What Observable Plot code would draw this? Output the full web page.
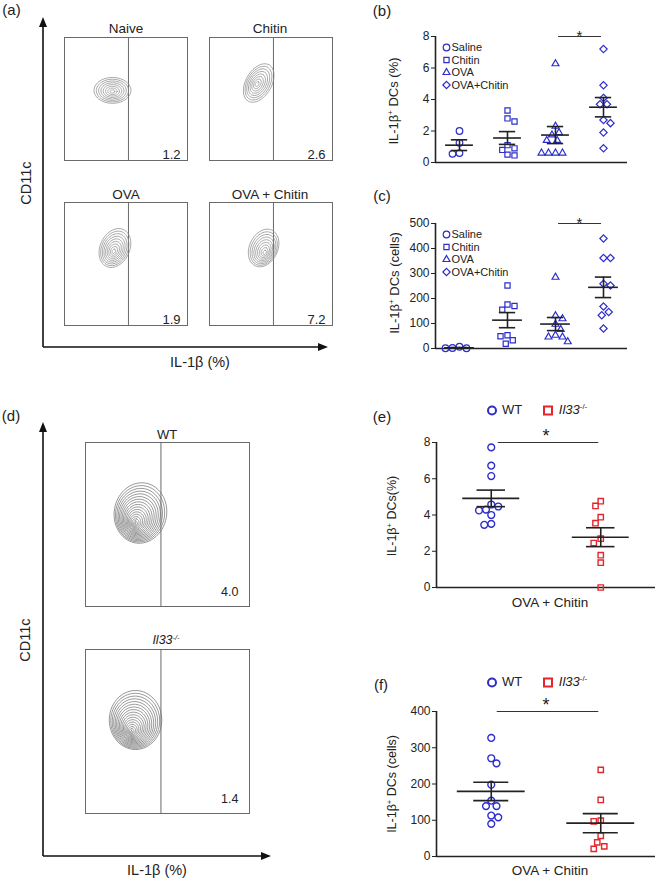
<!DOCTYPE html>
<html><head><meta charset="utf-8">
<script src="https://cdn.jsdelivr.net/npm/d3@7"></script>
<script src="https://cdn.jsdelivr.net/npm/@observablehq/plot@0.6"></script>
<style>
body{margin:0;background:#fff;}
#fig{position:relative;width:660px;height:881px;font-family:"Liberation Sans",Arial,sans-serif;color:#222;overflow:hidden;background:#fff}
.lbl{position:absolute;white-space:nowrap;line-height:1;color:#222}
.lbl sup{font-size:0.6em;vertical-align:0.55em;line-height:0}
.sw{display:inline-block;box-sizing:border-box;vertical-align:middle}
</style></head><body><div id="fig"></div>
<script>
// ---------- flow cytometry panels (a), (d) ----------
const flowNames = ["Naive", "Chitin", "OVA", "OVA + Chitin", "WT", "Il33"];
const flowPct   = [1.2, 2.6, 1.9, 7.2, 4.0, 1.4];
const flowGate  = [52, 52, 52, 52, 46, 46];          // IL-1β gate, % of axis
// population outline (% of box)
const popCx     = [39, 40, 41, 44, 33.5, 30.5];
const popCy     = [57, 63, 63, 63, 57, 57];
const coreCx    = [39, 38.5, 40, 45, 30, 28];
const coreCy    = [56, 62, 60, 59, 50, 49.5];
const popLong   = [15, 17, 16.5, 16, 18.5, 18];
const popShort  = [10.5, 10.5, 12, 11.5, 16, 16];
const popTilt   = [0, 60, 65, 65, 80, 90];
const popLevels = [8, 8, 9, 9, 17, 17];

// ---------- panel (b): IL-1β+ DCs (%) ----------
const bcGroups   = ["Saline", "Chitin", "OVA", "OVA+Chitin"];
const bSaline    = [2.0, 1.25, 0.6, 0.55];
const bChitin    = [3.3, 2.8, 2.6, 1.1, 0.9, 0.8, 0.5, 0.45];
const bOVA       = [6.27, 2.3, 1.9, 1.75, 1.4, 1.4, 0.6, 0.6, 0.6, 0.6];
const bOVAChitin = [7.2, 4.9, 4.1, 3.7, 3.7, 2.7, 2.5, 1.9, 0.9];
const bTicks     = [0, 2, 4, 6, 8];
// ---------- panel (c): IL-1β+ DCs (cells) ----------
const cSaline    = [1, 2, 1, 7];
const cChitin    = [252, 176, 170, 155, 53, 49, 33, 19];
const cOVA       = [285, 131, 119, 97, 76, 53, 46, 46, 27];
const cOVAChitin = [440, 362, 362, 259, 252, 168, 146, 133, 80];
const cTicks     = [0, 100, 200, 300, 400, 500];
// ---------- panel (e) / (f): OVA + Chitin, WT vs Il33-/- ----------
const efGroups = ["WT", "Il33"];
const eWT   = [7.73, 6.72, 6.15, 4.58, 4.47, 4.3, 4.25, 4.0, 3.51, 3.46];
const eIl33 = [4.76, 4.5, 3.88, 3.55, 2.69, 2.45, 1.78, 1.37, 0];
const eTicks = [0, 2, 4, 6, 8];
const fWT   = [327, 271, 257, 198, 154, 139, 139, 113, 108, 90];
const fIl33 = [239, 156, 99, 97, 57, 39, 28, 21];
const fTicks = [0, 100, 200, 300, 400];

const BLUE = "#2d2dcc", RED = "#e2262c", INK = "#222";
const FONT = "'Liberation Sans', Arial, sans-serif";
const fig = document.getElementById("fig");

function put(node, left, top) {
  node.style.position = "absolute";
  node.style.left = left + "px";
  node.style.top = top + "px";
  fig.appendChild(node);
}
function label(html, cx, cy, size, opts = {}) {
  const d = document.createElement("div");
  d.className = "lbl";
  d.innerHTML = html;
  d.style.fontSize = size + "px";
  d.style.left = cx + "px";
  d.style.top = cy + "px";
  d.style.transform = "translate(-50%,-50%)" + (opts.rotate ? " rotate(-90deg)" : "");
  if (opts.italic) d.style.fontStyle = "italic";
  fig.appendChild(d);
}

// axis arrows for the flow panels (decoration)
const NS = "http://www.w3.org/2000/svg";
const arr = document.createElementNS(NS, "svg");
arr.setAttribute("width", 660); arr.setAttribute("height", 881);
arr.innerHTML = `
<g stroke="#111" stroke-width="1.6" fill="none">
 <path d="M43,347V25M43,347H320"/>
 <path d="M43,856V430M43,856H263"/>
</g>
<g fill="#111">
 <path d="M43,17L39,27H47Z"/><path d="M328,347L318,343V351Z"/>
 <path d="M43,422L39,432H47Z"/><path d="M271,856L261,852V860Z"/>
</g>`;
put(arr, 0, 0);

function flowPlot(i, size, pctSize, pdx, pdy, lineColor, lineW, power) {
  const pts = [];
  const N = popLevels[i], phi = popTilt[i] * Math.PI / 180;
  for (let k = 1; k <= N; k++) {
    const s = Math.pow(k / N, power);
    const cx = coreCx[i] + (popCx[i] - coreCx[i]) * s;
    const cy = coreCy[i] + (popCy[i] - coreCy[i]) * s;
    for (let t = 0; t < 60; t++) {
      const th = 2 * Math.PI * t / 60;
      const u = popLong[i] * s * Math.cos(th), v = popShort[i] * s * Math.sin(th);
      pts.push({level: k, x: cx + u * Math.cos(phi) - v * Math.sin(phi), y: cy + u * Math.sin(phi) + v * Math.cos(phi)});
    }
  }
  return Plot.plot({
    width: size + 2, height: size + 2, margin: 1,
    style: {fontFamily: FONT, background: "transparent", color: INK},
    x: {domain: [0, 100], axis: null},
    y: {domain: [0, 100], axis: null},
    marks: [
      Plot.frame({stroke: "#6a6a6a"}),
      Plot.ruleX([flowGate[i]], {stroke: "#6a6a6a"}),
      Plot.line(pts, {x: "x", y: "y", z: "level", curve: "linear-closed", stroke: lineColor, strokeWidth: lineW}),
      Plot.text([flowPct[i]], {frameAnchor: "bottom-right", text: d => d.toFixed(1), textAnchor: "end",
        lineAnchor: "bottom", dx: pdx, dy: pdy, fontSize: pctSize, fill: INK})
    ]
  });
}

const boxesA = [[64, 37], [209, 37], [64, 202], [209, 202]];
boxesA.forEach(([l, t], i) => put(flowPlot(i, 123, 13, -7, -2, "#8a8a8a", 0.75, 1), l - 1, t - 1));
const boxesD = [[85, 442], [85, 649]];
boxesD.forEach(([l, t], j) => put(flowPlot(4 + j, 164, 12.5, -11, -11, "#6a6a6a", 0.7, 1.15), l - 1, t - 1));

// ---------- scatter (dot) panels ----------
function swarm(vals, pyu, pxu, d) {
  const idx = d3.range(vals.length).sort((a, b) => vals[b] - vals[a]);
  const placed = [], off = new Array(vals.length);
  const step = d / 4;
  idx.forEach((i, n) => {
    const y = vals[i] * pyu;
    let best = null;
    for (let k = 0; k < 80 && best === null; k++) {
      const cands = k === 0 ? [0] : (n % 2 ? [-k * step, k * step] : [k * step, -k * step]);
      for (const c of cands) {
        if (placed.every(p => (p.x - c) ** 2 + (p.y - y) ** 2 >= d * d)) { best = c; break; }
      }
    }
    placed.push({x: best, y});
    off[i] = best / pxu;
  });
  return off;
}

function scatter(cfg) {
  const {groups, series, symbols, colors, ymax, ticks, fw, fh, ml, mr, mt, mb, r, sw, gap,
         meanHalf, capHalf, sig, starSize, starDy, legend} = cfg;
  const n = groups.length;
  const xLo = -0.5;
  const pyu = fh / ymax, pxu = fw / n;
  const rows = [];
  series.forEach((vals, gi) => {
    const off = swarm(vals, pyu, pxu, gap);
    vals.forEach((v, j) => rows.push({group: groups[gi], value: v, x: gi + off[j]}));
  });
  const stats = series.map((vals, gi) => {
    const m = d3.mean(vals), s = d3.deviation(vals) / Math.sqrt(vals.length);
    return {gi, mean: m, lo: m - s, hi: m + s};
  });
  const line = {stroke: INK, strokeWidth: 1.6};
  const marks = [
    Plot.ruleY([0], line),
    Plot.ruleX([xLo], {y1: 0, y2: ymax, ...line}),
    Plot.dot(rows, {x: "x", y: "value", symbol: "group", stroke: "group", fill: "none", r, strokeWidth: sw}),
    Plot.ruleY(stats, {y: "mean", x1: d => d.gi - meanHalf, x2: d => d.gi + meanHalf, ...line}),
    Plot.ruleY(stats, {y: "hi", x1: d => d.gi - capHalf, x2: d => d.gi + capHalf, ...line}),
    Plot.ruleY(stats, {y: "lo", x1: d => d.gi - capHalf, x2: d => d.gi + capHalf, ...line}),
    Plot.ruleX(stats, {x: "gi", y1: "lo", y2: "hi", ...line}),
    Plot.ruleY([sig], {x1: "from", x2: "to", y: "y", stroke: "#333", strokeWidth: 1.1, insetLeft: sig.inset, insetRight: 2}),
    Plot.text([sig], {x: d => (d.from + d.to) / 2, y: "y", text: () => "*", fontSize: starSize, dy: starDy, fill: INK})
  ];
  if (legend) {
    // legend rows laid out in the plot's own coordinates (11 px from the axis, 12.5 px apart)
    const leg = groups.map((g, i) => ({g, lx: xLo + 11 / pxu, tx: xLo + 16 / pxu, y: ymax - (11 + 12.5 * i) / pyu}));
    marks.push(Plot.dot(leg, {x: "lx", y: "y", symbol: "g", stroke: "g", fill: "none", r, strokeWidth: sw}));
    marks.push(Plot.text(leg, {x: "tx", y: "y", text: "g", textAnchor: "start", fontSize: 11, fill: INK}));
  }
  return Plot.plot({
    width: ml + fw + mr, height: mt + fh + mb,
    marginLeft: ml, marginRight: mr, marginTop: mt, marginBottom: mb,
    style: {fontFamily: FONT, fontSize: "12px", background: "transparent", color: INK, overflow: "visible"},
    x: {domain: [xLo, n - 0.5], axis: null},
    y: {domain: [0, ymax], ticks, tickSize: 4, tickPadding: 2, label: null},
    symbol: {domain: groups, range: symbols},
    color: {domain: groups, range: colors},
    marks
  });
}

const bcSymbols = ["circle", "square2", "triangle2", "diamond2"];
const bcColors = [BLUE, BLUE, BLUE, BLUE];
put(scatter({groups: bcGroups, series: [bSaline, bChitin, bOVA, bOVAChitin], symbols: bcSymbols, colors: bcColors,
  ymax: 8, ticks: bTicks, fw: 192, fh: 126, ml: 55, mr: 8, mt: 20, mb: 6, r: 3.3, sw: 1.2, gap: 7,
  meanHalf: 0.29, capHalf: 0.17, sig: {from: 2, to: 3, y: 8, inset: 3}, starSize: 15, starDy: 0, legend: true}), 380, 16);
put(scatter({groups: bcGroups, series: [cSaline, cChitin, cOVA, cOVAChitin], symbols: bcSymbols, colors: bcColors,
  ymax: 500, ticks: cTicks, fw: 192, fh: 125, ml: 55, mr: 8, mt: 20, mb: 6, r: 3.3, sw: 1.2, gap: 7,
  meanHalf: 0.31, capHalf: 0.17, sig: {from: 2, to: 3, y: 500, inset: 3}, starSize: 15, starDy: 0, legend: true}), 380, 203);

const efSymbols = ["circle", "square2"];
const efColors = [BLUE, RED];
put(scatter({groups: efGroups, series: [eWT, eIl33], symbols: efSymbols, colors: efColors,
  ymax: 8, ticks: eTicks, fw: 219, fh: 145, ml: 56, mr: 5, mt: 20, mb: 8, r: 3.4, sw: 1.4, gap: 7,
  meanHalf: 0.26, capHalf: 0.13, sig: {from: 0, to: 1, y: 8, inset: 7}, starSize: 18, starDy: -6, legend: false}), 380, 422);
put(scatter({groups: efGroups, series: [fWT, fIl33], symbols: efSymbols, colors: efColors,
  ymax: 400, ticks: fTicks, fw: 219, fh: 145, ml: 56, mr: 5, mt: 20, mb: 8, r: 3.4, sw: 1.4, gap: 7,
  meanHalf: 0.31, capHalf: 0.16, sig: {from: 0, to: 1, y: 400, inset: 6}, starSize: 18, starDy: -6, legend: false}), 380, 691);

// ---------- text ----------
label("(a)", 11.5, 9, 15); label("(b)", 382, 10, 15); label("(c)", 382, 195, 15);
label("(d)", 11, 415, 15); label("(e)", 382, 416, 15); label("(f)", 381, 684, 15);

label("CD11c", 26, 183, 14.5, {rotate: true});
label("IL-1β (%)", 200, 362, 14.5);
label("CD11c", 25, 640, 14.5, {rotate: true});
label("IL-1β (%)", 157, 870, 14.5);

label(flowNames[0], 126, 29, 13.5); label(flowNames[1], 270, 29, 13.5);
label(flowNames[2], 126, 195, 13.5); label(flowNames[3], 270, 195, 13.5);
label(flowNames[4], 167, 434, 13);
label("Il33<sup>-/-</sup>", 166, 640, 12.5, {italic: true});

label("IL-1β<sup>+</sup> DCs (%)", 393, 101, 13, {rotate: true});
label("IL-1β<sup>+</sup> DCs (cells)", 394, 283, 13, {rotate: true});
label("IL-1β<sup>+</sup> DCs(%)", 391.5, 516, 12.5, {rotate: true});
label("IL-1β<sup>+</sup> DCs (cells)", 391.5, 784, 12.5, {rotate: true});
label("OVA + Chitin", 550, 602.5, 13.5);
label("OVA + Chitin", 550, 871, 13.5);

function efLegend(cy) {
  label(`<span class="sw" style="width:10px;height:10px;border:2px solid ${BLUE};border-radius:50%"></span>`, 492, cy, 13);
  label("WT", 512, cy, 13);
  label(`<span class="sw" style="width:10px;height:10px;border:2px solid ${RED}"></span>`, 548, cy, 13);
  label("<i>Il33</i><sup>-/-</sup>", 573, cy, 13);
}
efLegend(409);
efLegend(681);
</script></body></html>
